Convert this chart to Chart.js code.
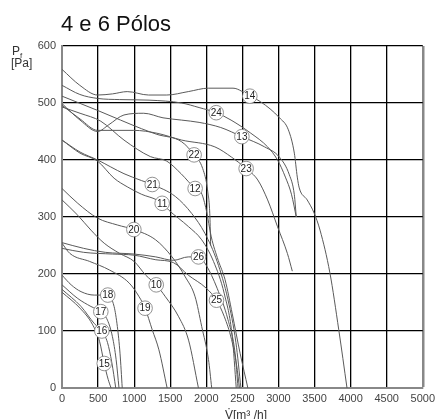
<!DOCTYPE html>
<html lang="pt">
<head>
<meta charset="UTF-8">
<title>4 e 6 Pólos</title>
<style>
  html, body { margin: 0; padding: 0; background: #fff; }
  #wrap { width: 439px; height: 419px; position: relative; }
</style>
</head>
<body>
<div id="wrap"><canvas id="curvas"></canvas></div>
<script src="https://cdn.jsdelivr.net/npm/chart.js@4"></script>
<script>
// curves: [caudal m3/h, pressao Pa]
const c10 = [[0,330],[219,303],[401,277],[585,254],[800,236],[1000,222],[1160,198],[1306,181],[1434,160],[1617,125],[1754,84],[1891,0]];
const c11 = [[0,435],[250,412],[493,398],[722,368],[904,353],[1100,340],[1315,330],[1388,324],[1480,312],[1754,283],[1936,260],[2100,222],[2250,165],[2360,90],[2415,0]];
const c12 = [[0,493],[250,482],[538,468],[859,435],[1224,406],[1452,398],[1650,376],[1845,350],[1932,342],[2000,312],[2069,265],[2165,224],[2260,190],[2360,130],[2470,60],[2576,0]];
const c13 = [[0,499],[250,470],[493,450],[650,462],[859,479],[1133,482],[1400,474],[1658,470],[1900,466],[2200,457],[2493,441],[2808,423],[3014,405],[3151,374],[3220,339],[3247,300]];
const c14 = [[0,559],[247,531],[493,514],[700,516],[904,520],[1200,514],[1452,514],[1750,520],[2028,526],[2370,526],[2603,512],[2754,502],[3014,474],[3137,453],[3220,412],[3261,370],[3288,351],[3398,330],[3494,307],[3576,277],[3713,202],[3836,102],[3950,0]];
const c15 = [[0,168],[250,140],[420,112],[520,82],[585,43],[640,15],[680,0]];
const c16 = [[0,173],[264,143],[448,113],[552,100],[630,80],[690,45],[745,0]];
const c17 = [[0,181],[219,157],[401,143],[538,134],[630,119],[699,90],[750,50],[790,0]];
const c18 = [[0,198],[127,181],[264,169],[448,163],[634,163],[722,143],[767,108],[804,61],[835,0]];
const c19 = [[0,254],[110,236],[384,222],[658,207],[932,184],[1069,160],[1151,140],[1251,102],[1343,67],[1457,0]];
const c20 = [[0,350],[219,324],[493,298],[767,286],[996,278],[1297,260],[1525,230],[1708,195],[1845,160],[1936,108],[2030,50],[2075,0]];
const c21 = [[0,435],[250,414],[493,400],[859,376],[1100,364],[1251,357],[1571,336],[1799,306],[1982,271],[2150,222],[2300,155],[2410,80],[2480,0]];
const c22 = [[0,512],[493,487],[812,470],[1100,455],[1315,445],[1658,432],[1831,409],[1950,385],[2020,345],[2050,300],[2060,250]];
const c23 = [[0,496],[250,472],[493,452],[996,452],[1315,447],[1658,435],[2119,423],[2350,405],[2552,385],[2713,365],[2850,330],[2987,283],[3124,236],[3192,205]];
const c24 = [[0,531],[247,515],[493,508],[800,506],[1206,505],[1658,500],[1900,492],[2137,483],[2343,470],[2617,447],[2850,423],[2987,400],[3096,370],[3180,340],[3247,300]];
const c25 = [[0,245],[300,238],[700,235],[1000,233],[1300,225],[1544,220],[1750,198],[2000,175],[2141,154],[2250,125],[2350,85],[2420,40],[2460,0]];
const c26 = [[0,255],[300,245],[600,238],[1000,235],[1300,230],[1544,224],[1750,230],[1891,230],[2000,215],[2150,175],[2300,120],[2400,60],[2440,0]];

const curveNames = ['10','11','12','13','14','15','16','17','18','19','20','21','22','23','24','25','26'];
const curves = [c10,c11,c12,c13,c14,c15,c16,c17,c18,c19,c20,c21,c22,c23,c24,c25,c26];
// where each number sits on its curve
const labelX = [1306,1388,1845,2493,2603,585,552,538,634,1151,996,1251,1831,2552,2137,2141,1891];
const labelY = [181,324,350,441,512,43,100,134,163,140,278,357,409,385,483,154,230];

const xTicks = [0,500,1000,1500,2000,2500,3000,3500,4000,4500,5000];
const yTicks = [0,100,200,300,400,500,600];

const FONT = '"Liberation Sans", Arial, sans-serif';

const circleLabels = {
  id: 'circleLabels',
  afterDatasetsDraw(chart) {
    const ctx = chart.ctx, xs = chart.scales.x, ys = chart.scales.y;
    ctx.save();
    ctx.font = '10px ' + FONT;
    ctx.textAlign = 'center';
    ctx.textBaseline = 'middle';
    curveNames.forEach((n, i) => {
      const px = xs.getPixelForValue(labelX[i]);
      const py = ys.getPixelForValue(labelY[i]);
      ctx.beginPath();
      ctx.arc(px, py, 7.3, 0, Math.PI * 2);
      ctx.fillStyle = '#fff';
      ctx.fill();
      ctx.lineWidth = 0.8;
      ctx.strokeStyle = '#777';
      ctx.stroke();
      ctx.fillStyle = '#222';
      ctx.fillText(n, px, py + 0.5);
    });
    ctx.restore();
  }
};

const texts = {
  id: 'texts',
  afterDraw(chart) {
    const ctx = chart.ctx;
    ctx.save();
    ctx.fillStyle = '#111';
    ctx.textBaseline = 'alphabetic';
    ctx.textAlign = 'left';
    ctx.font = '22px ' + FONT;
    ctx.fillText('4 e 6 Pólos', 61, 31);
    ctx.fillStyle = '#333';
    ctx.font = '12px ' + FONT;
    ctx.fillText('P', 12, 55);
    ctx.font = '8px ' + FONT;
    ctx.fillText('f', 20, 58);
    ctx.font = '12px ' + FONT;
    ctx.fillText('[Pa]', 11, 67);
    ctx.fillText('V\u0307[m\u00b3 /h]', 225, 419);
    ctx.restore();
  }
};

new Chart(document.getElementById('curvas'), {
  type: 'line',
  data: {
    datasets: curves.map((c, i) => ({
      label: curveNames[i],
      data: c.map(p => ({ x: p[0], y: p[1] })),
      borderColor: '#5a5a5a',
      borderWidth: 1,
      pointRadius: 0,
      fill: false,
      cubicInterpolationMode: 'monotone'
    }))
  },
  options: {
    responsive: true,
    maintainAspectRatio: false,
    animation: false,
    layout: { padding: { top: 46, right: 12, left: 0, bottom: 0 } },
    plugins: { legend: { display: false }, tooltip: { enabled: false }, title: { display: false } },
    scales: {
      x: {
        type: 'linear', min: 0, max: 5000,
        afterFit(s) { s.height = 31; },
        afterBuildTicks(s) { s.ticks = xTicks.map(v => ({ value: v })); },
        ticks: { color: '#444', font: { size: 11, family: FONT }, padding: 4, maxRotation: 0, autoSkip: false, callback: v => String(v) },
        grid: {
          drawTicks: false,
          color: c => c.tick && c.tick.value === 5000 ? '#888' : '#000',
          lineWidth: c => c.tick && c.tick.value === 5000 ? 2.5 : 1.3
        },
        border: { color: '#888', width: 2 }
      },
      y: {
        type: 'linear', min: 0, max: 600,
        afterFit(s) { s.width = 62; },
        afterBuildTicks(s) { s.ticks = yTicks.map(v => ({ value: v })); },
        ticks: { color: '#444', font: { size: 11, family: FONT }, padding: 6, callback: v => String(v) },
        grid: { drawTicks: false, color: '#000', lineWidth: 1.3 },
        border: { color: '#888', width: 2 }
      }
    }
  },
  plugins: [circleLabels, texts]
});
</script>
</body>
</html>
